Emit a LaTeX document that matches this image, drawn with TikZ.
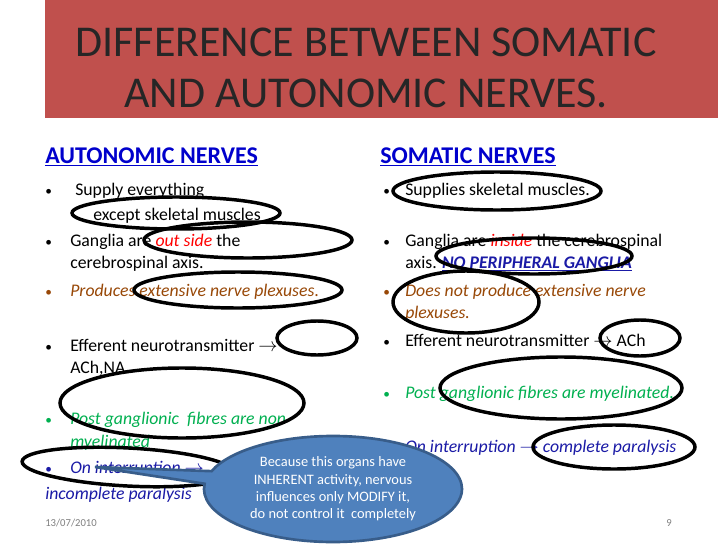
\documentclass[tikz,border=0pt]{standalone}
\usepackage{fontspec}
\setmainfont{Carlito}
\usetikzlibrary{shapes.callouts}
\definecolor{tred}{HTML}{C0504D}
\definecolor{hblue}{HTML}{0000CC}
\definecolor{tgreen}{HTML}{00B050}
\definecolor{tbrown}{HTML}{984807}
\definecolor{dblue}{HTML}{1A1AA6}
\definecolor{cfill}{HTML}{4F81BD}
\definecolor{cedge}{HTML}{385D8A}
\newcommand{\arr}{\ensuremath{\rightarrow}}
\tikzset{
 txt/.style={anchor=base west,inner sep=0pt,font=\fontsize{13.3}{15}\selectfont},
 bul/.style={anchor=base west,inner sep=0pt,font=\fontsize{10}{12}\selectfont},
 head/.style={anchor=base west,inner sep=0pt,font=\fontsize{18}{20}\selectfont\bfseries,text=hblue},
 ring/.style={draw=black,line width=2.6pt},
}
\begin{document}
\begin{tikzpicture}[x=0.75pt,y=-0.75pt]
\useasboundingbox (0,0) rectangle (728,546);
\fill[white] (0,0) rectangle (728,546);
\fill[tred] (45,0) rectangle (718,118);
\node[inner sep=0pt,align=center,text=black!85,font=\fontsize{33}{38}\selectfont] (title) at (366,68) {DIFFERENCE BETWEEN SOMATIC\\AND AUTONOMIC NERVES.};
% left column
\node[head] (ah) at (45,163) {\underline{AUTONOMIC NERVES}};
\node[bul] (b1) at (45,195) {•};
\node[txt] (l1) at (75,195) {Supply everything};
\node[txt] (l1b) at (93,220) {except skeletal muscles};
\node[bul] (b2) at (45,246) {•};
\node[txt] (l2) at (70,246) {Ganglia are \textcolor{red}{\itshape out side} the};
\node[txt] (l2b) at (70,268) {cerebrospinal axis.};
\node[bul,text=tbrown] (b3) at (45,296) {•};
\node[txt,text=tbrown] (l3) at (70,296) {\itshape Produces extensive nerve plexuses\upshape.};
\node[bul] (b4) at (45,351) {•};
\node[txt] (l4) at (70,351) {Efferent neurotransmitter \arr};
\node[txt] (l4b) at (70,373) {ACh,NA.};
\node[bul,text=tgreen] (b5) at (45,424) {•};
\node[txt,text=tgreen] (l5) at (70,424) {\itshape Post ganglionic\ \ fibres are non};
\node[txt,text=tgreen] (l5b) at (70,447) {\itshape myelinated};
\node[bul,text=dblue] (b6) at (45,473) {•};
\node[txt,text=dblue] (l6) at (70,473) {\itshape On interruption \arr};
\node[txt,text=dblue] (l6b) at (45,499) {\itshape incomplete paralysis};
\node[anchor=base west,inner sep=0pt,text=gray,font=\fontsize{8}{10}\selectfont] (date) at (45,526) {13/07/2010};
\node[anchor=base east,inner sep=0pt,text=gray,font=\fontsize{8}{10}\selectfont] (pg) at (672,526) {9};
% right column
\node[head] (sh) at (380,163) {\underline{SOMATIC NERVES}};
\node[bul] (b7) at (383,195) {•};
\node[txt] (r1) at (405,195) {Supplies skeletal muscles.};
\node[bul] (b8) at (383,246) {•};
\node[txt] (r2) at (405,246) {Ganglia are \textcolor{red}{\itshape inside} the cerebrospinal};
\node[txt] (r2b) at (405,268) {axis. \textcolor{dblue}{\bfseries\itshape\underline{NO PERIPHERAL GANGLIA}}};
\node[bul,text=tbrown] (b9) at (383,296) {•};
\node[txt,text=tbrown] (r3) at (405,296) {\itshape Does not produce extensive nerve};
\node[txt,text=tbrown] (r3b) at (405,318) {\itshape plexuses.};
\node[bul] (b10) at (383,346) {•};
\node[txt] (r4) at (405,346) {Efferent neurotransmitter \arr{} ACh};
\node[bul,text=tgreen] (b11) at (383,398) {•};
\node[txt,text=tgreen] (r5) at (405,398) {\itshape Post ganglionic fibres are myelinated.};
\node[txt,text=dblue] (r6) at (405,452) {\itshape On interruption \arr{} complete paralysis};
% rings
\draw[ring] (176,213) ellipse [x radius=104,y radius=16];
\draw[ring] (248,240) ellipse [x radius=104,y radius=18];
\draw[ring] (238,290) ellipse [x radius=104,y radius=18];
\draw[ring] (317,338) ellipse [x radius=40,y radius=17];
\draw[ring] (182,403) ellipse [x radius=122,y radius=35];
\draw[ring,rotate around={-3:(128,467)}] (128,467) ellipse [x radius=106,y radius=19];
\draw[ring] (497,191) ellipse [x radius=104,y radius=19];
\draw[ring] (534,256) ellipse [x radius=98,y radius=18];
\draw[ring] (466,302) ellipse [x radius=73,y radius=31];
\draw[ring] (640,338) ellipse [x radius=40,y radius=18];
\draw[ring] (561,388) ellipse [x radius=121,y radius=31];
\draw[ring] (614,447) ellipse [x radius=81,y radius=22];
% callout
\coordinate (tip) at (95,467);
\node[ellipse callout,fill=cfill,draw=cedge,line width=2pt,minimum width=258*0.75pt,minimum height=106*0.75pt,callout absolute pointer={(tip)},callout pointer arc=14,align=center,text=white,inner sep=0pt,font=\fontsize{10.8}{13}\selectfont] (note) at (333,489) {Because this organs have\\INHERENT activity, nervous\\influences only MODIFY it,\\do not control it\ \ completely};
\end{tikzpicture}
\end{document}
